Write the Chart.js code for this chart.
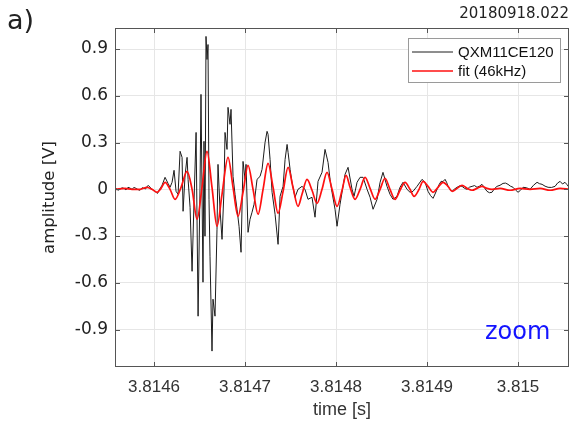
<!DOCTYPE html>
<html>
<head>
<meta charset="utf-8">
<script src="https://cdn.jsdelivr.net/npm/chart.js@4.4.0/dist/chart.umd.min.js"></script>
<style>
  html, body { margin: 0; padding: 0; background: #fff; }
  #wrap { position: relative; width: 574px; height: 423px; }
</style>
</head>
<body>
<div id="wrap"><canvas id="sigChart" width="574" height="423"></canvas></div>
<script>
// time axis is in microseconds after T0 (seconds)
const T0 = 3.8146;
const shotId = '20180918.022';
const xTicks = [0, 100, 200, 300, 400];
const yTicks = [-0.9, -0.6, -0.3, 0, 0.3, 0.6, 0.9];

// measured probe signal
const sigTime = [-41.8, -39.6, -37.4, -35.2, -33.0, -30.8, -28.6, -26.4, -24.2, -22.0, -19.8, -17.6, -15.4, -13.2,
  -11.0, -9.3, -7.7, -6.0, -4.4, -2.7, -1.1, 0.5, 2.2, 3.9, 5.5, 7.1, 8.8,
  12.1, 15.4, 17.6, 19.8, 22.0, 24.2, 26.4, 28.6, 30.8, 31.9, 34.1, 36.3, 37.4, 39.6, 41.8, 44.0,
  46.2, 48.4, 50.5, 51.6, 53.8, 54.9, 56.0, 57.1, 58.2, 59.3, 60.4, 61.5, 63.7, 64.8, 67.0, 69.2,
  70.3, 72.5, 74.7, 76.9, 78.0, 80.2, 81.3, 83.5, 84.6, 86.8, 89.0, 91.2, 93.4, 95.6, 97.8, 100.0,
  101.1, 103.3, 105.5, 107.7, 109.9, 113.2, 116.5, 118.7, 122.0, 124.2, 125.3, 127.5, 129.7, 133.0,
  136.3, 138.5, 141.8, 144.0, 146.2, 147.3, 149.5, 151.6, 154.9, 158.2, 162.6, 165.9, 169.2, 173.6,
  176.9, 180.2, 184.6, 187.9, 191.2, 193.4, 195.6, 198.9, 201.1, 204.4, 206.6, 209.9, 213.2, 217.6,
  219.8, 223.1, 226.4, 229.7, 234.1, 237.4, 240.7, 245.1, 248.4, 251.6, 256.0, 259.3, 262.6, 267.0,
  270.3, 273.6, 278.0, 281.3, 284.6, 289.0, 294.5, 297.8,
  301.1, 303.8, 306.6, 308.8, 311.0, 313.2, 315.4, 317.6, 319.8, 321.5, 323.1, 325.3, 327.5, 330.2,
  333.0, 335.7, 338.5, 341.2, 344.0, 346.7, 349.5, 352.2, 354.9, 357.6, 360.4, 363.1, 365.9, 368.6,
  371.4, 374.1, 376.9, 380.2, 383.5, 386.2, 389.0, 391.7, 394.5, 397.2, 400.0, 402.7, 405.5, 409.3,
  413.2, 417.0, 420.9, 423.6, 426.4, 429.7, 433.0, 436.8, 440.7, 443.4, 446.2, 448.9, 451.6, 453.8, 456.0];
const sigAmp = [0.006, -0.006, 0.000, 0.010, 0.006, -0.004, 0.013, 0.008, 0.000, 0.012, 0.006, -0.002, -0.006, 0.010,
  0.006, 0.002, 0.019, 0.024, 0.013, 0.004, -0.006, -0.010, -0.019, -0.026, -0.006, 0.010, 0.026,
  0.077, 0.038, 0.013, 0.045, 0.122, -0.013, -0.032, 0.244, 0.205, -0.141, 0.090, 0.205, 0.064, -0.115, -0.526, -0.064,
  0.365, -0.814, 0.000, 0.609, -0.596, 0.308, -0.301, 0.981, 0.833, 0.929, -0.064, -0.429, -1.038, -0.705, -0.814, -0.256,
  0.160, -0.128, -0.321, 0.000, 0.365, 0.256, 0.526, 0.417, 0.513, 0.083, -0.032, -0.128, -0.237, -0.404, 0.179, 0.064,
  0.160, -0.276, -0.192, -0.147, -0.096, 0.064, 0.083, 0.128, 0.301, 0.372, 0.353, 0.192, -0.019, -0.160,
  -0.353, -0.045, 0.019, 0.192, 0.288, 0.237, 0.128, 0.045, -0.051, 0.000, 0.019, 0.000, -0.064, -0.051,
  -0.179, 0.051, 0.109, 0.256, 0.173, 0.064, -0.019, -0.128, -0.237, -0.096, -0.019, 0.096, 0.141, 0.000,
  -0.045, 0.045, 0.077, 0.077, 0.000, -0.051, -0.128, -0.064, 0.045, 0.109, 0.019, -0.032, -0.064, -0.045,
  0.013, 0.045, 0.000, -0.019, -0.013, 0.019, 0.064, 0.045,
  -0.013, -0.040, -0.058, -0.030, 0.000, 0.030, 0.051, 0.050, 0.064, 0.045, 0.019, 0.000, -0.013, 0.002,
  0.013, 0.022, 0.019, 0.006, 0.000, 0.014, 0.019, 0.024, 0.013, 0.020, 0.032, 0.010, -0.013, -0.022,
  -0.019, 0.004, 0.019, 0.026, 0.038, 0.040, 0.032, 0.020, 0.013, -0.004, -0.019, -0.006, 0.013, 0.010,
  0.000, 0.026, 0.045, 0.036, 0.032, 0.020, 0.013, 0.012, 0.019, 0.040, 0.051, 0.034, 0.045, 0.030, 0.013];

// damped 46 kHz fit
const fitTime = [-41.8, -31.9, -24.2, -15.4, -7.7, -2.2, 3.3, 7.7, 12.1, 17.6, 23.1, 29.7, 36.3, 41.8, 47.3,
  52.7, 58.2, 63.7, 69.2, 74.7, 81.3, 86.8, 92.3, 97.8, 103.3, 108.8, 114.3, 119.8, 125.3, 130.8, 136.3,
  141.8, 147.3, 152.7, 158.2, 162.6, 168.1, 173.6, 179.1, 184.6, 190.1, 195.6, 201.1, 206.6, 211.0, 215.4,
  220.9, 226.4, 231.9, 237.4, 242.9, 248.4, 253.8, 259.3, 264.8, 270.3, 275.8, 281.3, 285.7, 291.2, 295.6,
  301.1, 306.6, 312.1, 317.6, 323.1, 327.5, 333.0, 338.5, 344.0, 349.5, 354.9, 360.4, 365.9, 371.4, 380.2,
  391.2, 402.2, 413.2, 424.2, 435.2, 446.2, 456.0];
const fitAmp = [0.000, 0.006, 0.000, 0.000, 0.013, 0.000, -0.019, 0.006, 0.045, 0.000, -0.064, 0.013, 0.115, 0.000, -0.192,
  0.013, 0.244, 0.013, -0.237, -0.032, 0.205, 0.013, -0.173, -0.019, 0.154, 0.000, -0.160, 0.000, 0.167, 0.013, -0.154,
  -0.013, 0.141, 0.013, -0.109, -0.032, 0.064, -0.006, -0.090, 0.000, 0.109, 0.000, -0.109, -0.006, 0.090, 0.013,
  -0.064, 0.000, 0.077, 0.006, -0.064, 0.000, 0.071, 0.000, -0.064, -0.006, 0.045, 0.000, -0.045, 0.000, 0.051,
  0.019, -0.019, 0.013, 0.045, 0.019, -0.013, 0.006, 0.026, 0.006, -0.006, 0.006, 0.019, 0.006, 0.000, 0.006,
  -0.006, 0.006, 0.000, 0.006, -0.006, 0.006, 0.000];

function toPoints(ts, vs) {
  return ts.map((t, i) => ({ x: t, y: vs[i] }));
}

function tickLabel(v) {
  return parseFloat((T0 + v * 1e-6).toFixed(4)).toString();
}

// frame, inward tick marks, legend box and panel texts
const decorations = {
  id: 'decorations',
  afterDraw(chart) {
    const ctx = chart.ctx;
    const a = chart.chartArea;
    const xs = chart.scales.x;
    const ys = chart.scales.y;
    ctx.save();
    ctx.strokeStyle = '#555';
    ctx.lineWidth = 1;
    ctx.strokeRect(a.left + 0.5, a.top + 0.5, a.right - a.left - 1, a.bottom - a.top - 1);
    ctx.beginPath();
    xTicks.forEach(v => {
      const px = Math.round(xs.getPixelForValue(v)) + 0.5;
      ctx.moveTo(px, a.bottom); ctx.lineTo(px, a.bottom - 5);
      ctx.moveTo(px, a.top); ctx.lineTo(px, a.top + 5);
    });
    yTicks.forEach(v => {
      const py = Math.round(ys.getPixelForValue(v)) + 0.5;
      ctx.moveTo(a.left, py); ctx.lineTo(a.left + 5, py);
      ctx.moveTo(a.right, py); ctx.lineTo(a.right - 5, py);
    });
    ctx.stroke();

    // legend
    ctx.fillStyle = '#fff';
    ctx.fillRect(408, 38, 152, 44);
    ctx.strokeStyle = '#9a9a9a';
    ctx.strokeRect(408.5, 38.5, 152, 44);
    const rows = [chart.data.datasets[1], chart.data.datasets[0]];
    ctx.font = '15px "Liberation Sans", Arial, sans-serif';
    ctx.textBaseline = 'middle';
    ctx.textAlign = 'left';
    rows.forEach((ds, i) => {
      const y = 52 + i * 19;
      ctx.strokeStyle = ds.borderColor;
      ctx.lineWidth = ds.borderWidth;
      ctx.beginPath();
      ctx.moveTo(412, y); ctx.lineTo(453, y);
      ctx.stroke();
      ctx.fillStyle = '#111';
      ctx.fillText(ds.label, 458, y + 1);
    });

    ctx.textBaseline = 'alphabetic';
    ctx.fillStyle = '#222';
    ctx.font = '27px "DejaVu Sans", sans-serif';
    ctx.fillText('a)', 7, 29);
    ctx.font = '15px "DejaVu Sans", sans-serif';
    ctx.textAlign = 'right';
    ctx.fillText(shotId, 569, 18);
    ctx.textAlign = 'left';
    ctx.fillStyle = '#1414ff';
    ctx.font = '24px "DejaVu Sans", sans-serif';
    ctx.fillText('zoom', 485, 339);
    ctx.restore();
  }
};

const config = {
  type: 'line',
  data: {
    datasets: [
      {
        label: 'fit (46kHz)',
        data: toPoints(fitTime, fitAmp),
        borderColor: '#ff1010',
        borderWidth: 1.7,
        pointRadius: 0,
        cubicInterpolationMode: 'monotone',
        order: 0,
      },
      {
        label: 'QXM11CE120',
        data: toPoints(sigTime, sigAmp),
        borderColor: '#1c1c1c',
        borderWidth: 1,
        pointRadius: 0,
        tension: 0,
        order: 1,
      },
    ],
  },
  options: {
    responsive: false,
    animation: false,
    layout: { padding: { top: 28, right: 5, left: 0, bottom: 0 } },
    plugins: { legend: { display: false }, tooltip: { enabled: false } },
    scales: {
      x: {
        type: 'linear',
        min: -42.9,
        max: 456,
        afterBuildTicks: s => { s.ticks = xTicks.map(v => ({ value: v })); },
        afterFit: s => { s.height = 56; },
        grid: { color: '#e6e6e6', drawTicks: false },
        border: { display: false },
        ticks: {
          padding: 10,
          color: '#333',
          font: { family: '"Liberation Sans", Arial, sans-serif', size: 17 },
          callback: v => tickLabel(v),
          maxRotation: 0,
        },
        title: {
          display: true,
          text: 'time [s]',
          color: '#333',
          font: { family: '"Liberation Sans", Arial, sans-serif', size: 18 },
          padding: { top: 0, bottom: 2 },
        },
      },
      y: {
        min: -1.14,
        max: 1.035,
        afterBuildTicks: s => { s.ticks = yTicks.map(v => ({ value: v })); },
        afterFit: s => { s.width = 115; },
        grid: { color: '#e6e6e6', drawTicks: false },
        border: { display: false },
        ticks: {
          padding: 7,
          color: '#222',
          font: { family: '"DejaVu Sans", sans-serif', size: 17 },
          callback: v => String(v),
        },
        title: {
          display: true,
          text: 'amplitude [V]',
          color: '#222',
          font: { family: '"DejaVu Sans", sans-serif', size: 16.5 },
          padding: { top: 40, bottom: 0 },
        },
      },
    },
  },
  plugins: [decorations],
};

const sigChart = new Chart(document.getElementById('sigChart'), config);
</script>
</body>
</html>
